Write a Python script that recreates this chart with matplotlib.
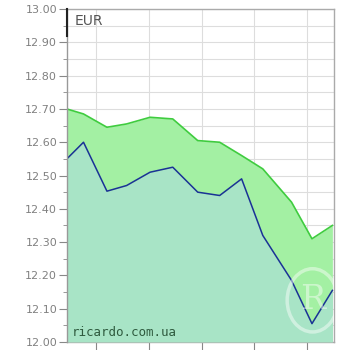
import numpy as np
import matplotlib.pyplot as plt
from matplotlib.patches import Circle

# days since start of the period
days = [0, 2.2, 5.3, 7.9, 11, 14, 17.3, 20.2, 23.1, 25.9, 29.7, 32.4, 35.1]
sell = [12.70, 12.685, 12.645, 12.655, 12.675, 12.67, 12.605, 12.60, 12.56, 12.52, 12.42, 12.31, 12.35]
buy = [12.55, 12.60, 12.453, 12.47, 12.51, 12.525, 12.45, 12.44, 12.49, 12.32, 12.185, 12.055, 12.155]
week_lines = [3.8, 10.8, 17.8, 24.8, 31.8]
y_ticks = [12.0, 12.1, 12.2, 12.3, 12.4, 12.5, 12.6, 12.7, 12.8, 12.9, 13.0]

fig = plt.figure(figsize=(3.5, 3.5), dpi=100)
ax = fig.add_axes([0.191, 0.023, 0.763, 0.951])

ax.fill_between(days, 12.0, sell, color="#a3f0a3", lw=0, zorder=2)
ax.plot(days, sell, color="#3fcc3f", lw=1.2, zorder=3)
ax.fill_between(days, 12.0, buy, color="#a8e4c6", lw=0, zorder=4)
ax.plot(days, buy, color="#1a3296", lw=1.1, zorder=5)

ax.set_xlim(0, 35.3)
ax.set_ylim(12.0, 13.0)
ax.set_yticks(y_ticks)
ax.set_yticklabels(["%.2f" % v for v in y_ticks])
ax.set_yticks(np.arange(12.05, 13.0, 0.1), minor=True)
ax.set_xticks(week_lines)
ax.set_xticklabels([])

ax.grid(True, which="both", axis="y", color="#dddddd", lw=0.8, zorder=1)
ax.grid(True, which="major", axis="x", color="#dddddd", lw=0.8, zorder=1)

ax.tick_params(axis="y", which="major", length=6, color="#888888",
               labelcolor="#808080", labelsize=8, pad=1)
ax.tick_params(axis="y", which="minor", length=3, color="#888888")
ax.tick_params(axis="x", length=6, color="#888888")

for s in ax.spines.values():
    s.set_color("#aaaaaa")
    s.set_linewidth(1.0)
ax.spines["left"].set_color("#999999")
ax.spines["left"].set_zorder(6)

# dark bit at the top of the left axis
ax.plot([0, 0], [12.92, 13.0], color="#222222", lw=1.5, clip_on=False, zorder=7)

ax.text(0.03, 0.985, "EUR", transform=ax.transAxes, ha="left", va="top",
        fontsize=10, color="#555555", zorder=8)
ax.text(0.02, 0.01, "ricardo.com.ua", transform=ax.transAxes, ha="left",
        va="bottom", fontsize=9, family="DejaVu Sans Mono", color="#2e5a3e", zorder=8)

# faint watermark
ax.add_patch(Circle((0.92, 0.125), 0.095, transform=ax.transAxes, fill=False,
                    ec="white", lw=2.5, alpha=0.45, zorder=6))
ax.text(0.92, 0.125, "R", transform=ax.transAxes, ha="center", va="center",
        fontsize=24, family="DejaVu Serif", color="white", alpha=0.45, zorder=6)

fig.savefig("out.png", dpi=100)
